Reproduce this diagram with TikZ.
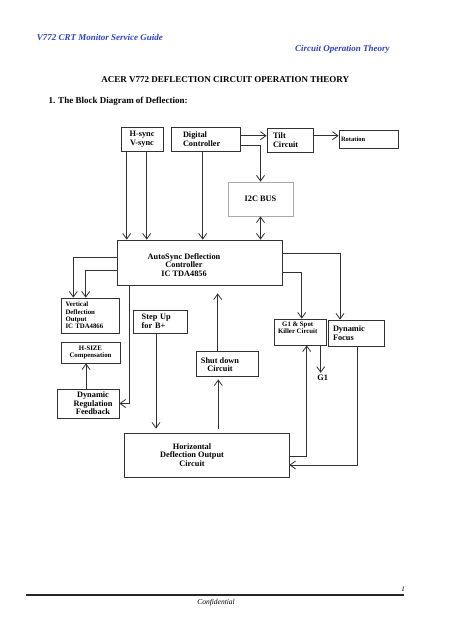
\documentclass[tikz,border=0pt]{standalone}
\usepackage{fontspec}
\setmainfont{Liberation Serif}
\usetikzlibrary{arrows.meta}
\definecolor{hdr}{RGB}{45,65,200}
\definecolor{ln}{RGB}{50,50,50}
\definecolor{lgray}{RGB}{170,170,170}
\newcommand\fA{\fontsize{8.3}{8.6}\selectfont\bfseries}
\newcommand\fB{\fontsize{6.8}{7.3}\selectfont\bfseries}
\newcommand\fC{\fontsize{6.5}{7}\selectfont\bfseries}
\newcommand\fH{\fontsize{9}{10}\selectfont\bfseries}
\begin{document}
\begin{tikzpicture}[x=1pt,y=-1pt,
  box/.style={draw=ln, line width=0.8pt, inner sep=0pt, font=\fA, align=center},
  arr/.style={draw=ln, line width=0.8pt, -{Straight Barb[length=5.5pt,width=8pt]}},
  darr/.style={draw=ln, line width=0.8pt, {Straight Barb[length=5.5pt,width=8pt]}-{Straight Barb[length=5.5pt,width=8pt]}},
  hd/.style={inner sep=0pt, font=\fH\itshape, text=hdr, anchor=west},
  lb/.style={font=\fA, align=center, inner sep=0pt}
]
\useasboundingbox (0,0) rectangle (452,640);

% header
\node[hd] (h1) at (36.7,37.3) {V772 CRT Monitor Service Guide};
\node[hd] (h2) at (295,49) {Circuit Operation Theory};
\node[inner sep=0pt, font=\fH] (title) at (225.3,80) {ACER V772 DEFLECTION CIRCUIT OPERATION THEORY};
\node[inner sep=0pt, font=\fH, anchor=west] (sec) at (48.3,101) {1. The Block Diagram of Deflection:};

% boxes
\node[box, minimum width=42pt, minimum height=24pt] (hv) at (142,139) {H-sync\\V-sync};
\node[box, text width=45pt, inner xsep=12pt, minimum height=24pt, align=left] (dc) at (205.5,139) {Digital\\Controller};
\node[box, text width=34pt, inner xsep=6pt, minimum height=24pt, align=left] (tilt) at (290,140) {Tilt\\Circuit};
\node[box, text width=55pt, inner xsep=2pt, minimum height=18pt, align=left, font=\fC] (rot) at (368.5,139) {Rotation};
\node[box, draw=lgray, minimum width=65pt, minimum height=34pt] (i2c) at (260.5,199) {I2C BUS};
\node[box, minimum width=165pt, minimum height=45pt,
  label={[lb, xshift=-15.5pt, yshift=-2.5pt]center:{AutoSync Deflection\\Controller\\IC TDA4856}}] (auto) at (199.5,262.5) {};
\node[box, font=\fB, text width=49pt, inner xsep=4.5pt, minimum height=35pt, align=left] (vdo) at (90,315.5) {Vertical\\Deflection\\Output\\IC TDA4866};
\node[box, font=\fB, minimum width=59pt, minimum height=21pt] (hsize) at (90.5,352.5) {H-SIZE\\Compensation};
\node[box, minimum width=62pt, minimum height=29pt,
  label={[lb, xshift=5pt]center:{Dynamic\\Regulation\\Feedback}}] (drf) at (88,403.5) {};
\node[box, text width=36.6pt, inner xsep=8.7pt, minimum height=23pt, align=left] (step) at (160,321.5) {Step Up\\for B+};
\node[box, minimum width=62pt, minimum height=25pt,
  label={[lb, xshift=-7pt, yshift=-1pt]center:{Shut down\\Circuit}}] (shut) at (227,363.5) {};
\node[box, minimum width=165pt, minimum height=44pt,
  label={[lb, xshift=-14.5pt]center:{Horizontal\\Deflection Output\\Circuit}}] (horiz) at (206.5,455) {};
\node[box, minimum width=52pt, minimum height=26pt,
  label={[lb, font=\fB, xshift=-2.3pt, yshift=4pt]center:{G1 \& Spot\\Killer Circuit}}] (g1) at (300,332) {};
\node[box, text width=46pt, inner xsep=5pt, minimum height=26pt, align=left] (df) at (356,333) {Dynamic\\Focus};
\node[font=\fA, inner sep=1.5pt] (g1out) at (322.7,377.3) {G1};

% connectors
\draw[arr] ([yshift=3.3pt]dc.east) -- ([yshift=3.3pt]dc.east -| tilt.west);
\draw[arr] ([yshift=4.3pt]tilt.east) -- ([yshift=4.3pt]tilt.east -| rot.west);
\draw[arr] ([yshift=-6pt]dc.east) -| (i2c.north);
\draw[darr] (i2c.south) -- (i2c.south |- auto.north);
\draw[arr] ([xshift=-15.3pt]hv.south) -- ([xshift=-15.3pt]hv.south |- auto.north);
\draw[arr] ([xshift=4.7pt]hv.south) -- ([xshift=4.7pt]hv.south |- auto.north);
\draw[arr] ([xshift=-2.8pt]dc.south) -- ([xshift=-2.8pt]dc.south |- auto.north);
\draw[arr] ([yshift=5.2pt]auto.west) -| ([xshift=-16.7pt]vdo.north);
\draw[arr] ([yshift=-8.2pt]auto.west) -| ([xshift=-4.3pt]vdo.north);
\draw[arr] ([xshift=-70.2pt]auto.south) |- (drf.east);
\draw[arr] ([xshift=-2pt]drf.north) -- ([xshift=-2pt]drf.north |- hsize.south);
\draw[arr, shorten >=4pt] ([xshift=-4pt]step.south) -- ([xshift=-4pt]step.south |- horiz.north);
\draw[arr, shorten <=4pt, shorten >=3pt] ([xshift=11.8pt]horiz.north) -- ([xshift=11.8pt]horiz.north |- shut.south);
\draw[arr, shorten >=8pt] ([xshift=-9.3pt]shut.north) -- ([xshift=-9.3pt]shut.north |- auto.south);
\draw[arr] ([yshift=9.2pt]auto.east) -| ([xshift=-16pt]df.north);
\draw[arr] ([yshift=-10.2pt]auto.east) -| ([xshift=1.7pt]g1.north);
\draw[arr] ([xshift=20.7pt]g1.south) -- ([xshift=20.7pt]g1.south |- g1out.north);
\draw[arr] ([yshift=-1pt]horiz.east) -| ([xshift=6.7pt]g1.south);
\draw[arr] ([xshift=1.7pt]df.south) |- ([yshift=-10pt]horiz.east);

% footer
\coordinate (fl) at (26,595);
\coordinate (fr) at (404.3,595);
\draw[line width=2pt, draw=black!85] (fl) -- (fr);
\node[font=\fontsize{7}{8}\selectfont\itshape, inner sep=0pt] (pg) at (403,589) {1};
\node[font=\fontsize{7.5}{8}\selectfont\itshape, inner sep=0pt] (conf) at (216,603) {Confidential};
\end{tikzpicture}
\end{document}
